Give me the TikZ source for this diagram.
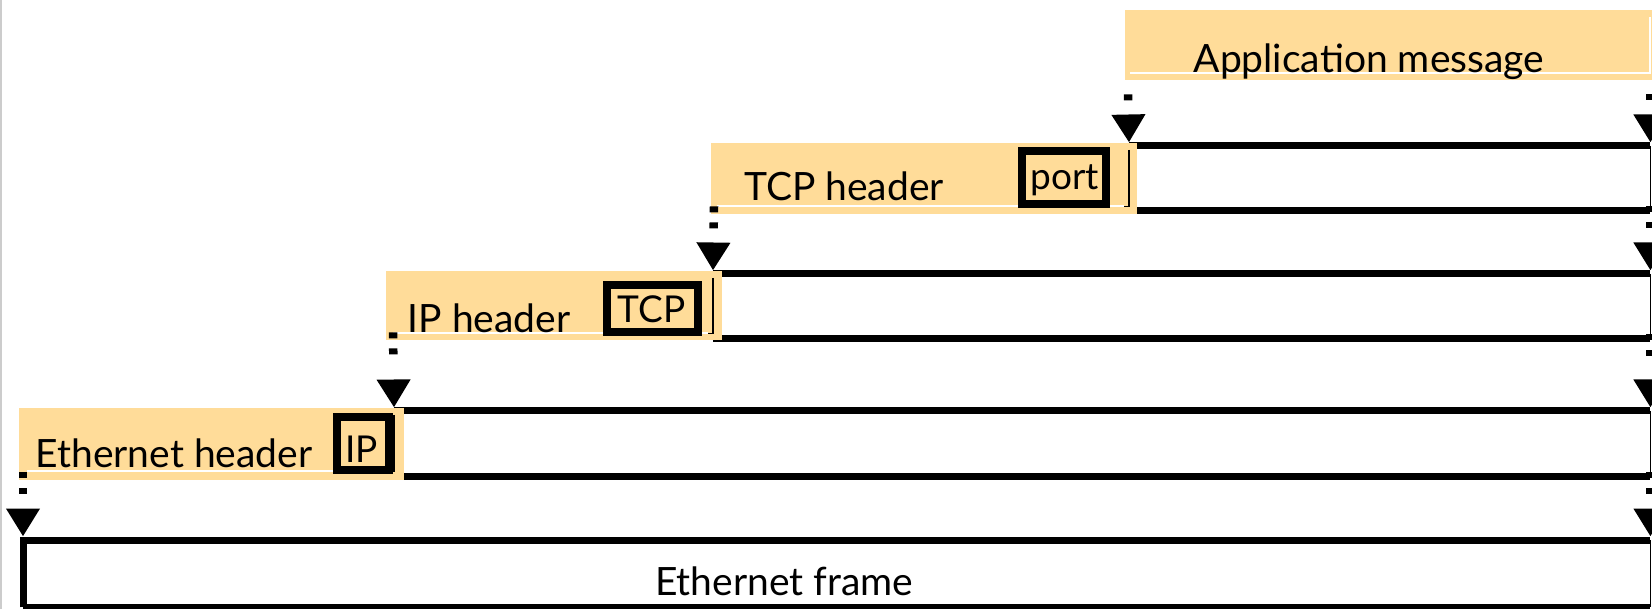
\documentclass[tikz,border=0pt]{standalone}
\usepackage{fontspec}
\setmainfont{Lato}
\usetikzlibrary{arrows.meta,calc}
\definecolor{hdrfill}{HTML}{FFDC99}
\tikzset{
  hdrbox/.style={fill=hdrfill, draw=none, inner sep=0pt, anchor=north west},
  paybox/.style={draw=none, inner sep=0pt, anchor=north west},
  fieldbox/.style={draw=black, line width=8pt, inner sep=0pt, anchor=center},
  fieldlabel/.style={anchor=base, inner sep=0pt, font=\fontsize{37}{40}\selectfont},
  biglabel/.style={anchor=base, inner sep=0pt, font=\fontsize{39}{46}\selectfont},
  bar/.style={line width=7pt},
  thinedge/.style={line width=1.5pt},
  seam/.style={white, line width=1.5pt},
  link/.style={line width=8.5pt, dash pattern=on 6pt off 10pt on 6pt off 80pt,
    -{Triangle[width=32pt,length=28pt]}},
}
\begin{document}
\begin{tikzpicture}[x=1pt,y=-1pt]
\useasboundingbox (0,0) rectangle (1652,609);
\clip (0,0) rectangle (1652,609);

% payload areas
\node[paybox, minimum width=521pt, minimum height=64pt] (tcppay) at (1129,146) {};
\node[paybox, minimum width=937pt, minimum height=64pt] (ippay) at (713,274) {};
\node[paybox, minimum width=1256pt, minimum height=65pt] (ethpay) at (394,411) {};
\node[paybox, minimum width=1627pt, minimum height=67pt] (frame) at (23,540) {};

% thick top and bottom rules of each payload
\foreach \p in {tcppay,ippay,ethpay}{
  \draw[bar] (\p.north west) -- (\p.north east);
  \draw[bar] (\p.south west) -- (\p.south east);
  \draw[thinedge] (\p.north east) -- (\p.south east);
}
\draw[bar] (frame.south west) -- (frame.north west) -- (frame.north east);
\draw[bar] (frame.south west) -- (frame.south east);
\draw[thinedge] (frame.north east) -- (frame.south east);

% header boxes
\node[hdrbox, minimum width=535pt, minimum height=70pt] (app) at (1125,10) {};
\node[hdrbox, minimum width=426pt, minimum height=71pt] (tcph) at (711,143) {};
\node[hdrbox, minimum width=336pt, minimum height=69pt] (iph) at (386,271) {};
\node[hdrbox, minimum width=385pt, minimum height=72pt] (ethh) at (19,408) {};

% light seams inside the header boxes
\draw[seam] (1130,73) -- (1650,73) -- (1650,17);
\draw[seam] (717,206) -- (1124,206);
\draw[seam] (393,333) -- (708,333);
\draw[seam] (27,471) -- (389,471);

% left edges of the payloads, seen through the headers
\draw[thinedge] ($(tcppay.north west)+(0,4)$) -- ($(tcppay.south west)+(0,-4)$) -- ++(-5,0);
\draw[thinedge] ($(ippay.north west)+(0,4)$) -- ($(ippay.south west)+(0,-5)$) -- ++(-5,0);
\draw[thinedge] ($(ethpay.north west)+(0,4)$) -- ($(ethpay.south west)+(0,-5)$) -- ++(-5,0);

% protocol fields inside the headers
\node[fieldbox, minimum width=84pt, minimum height=53pt] (port) at (1064,178) {};
\node[fieldlabel] at (1065,190) {port};
\node[fieldbox, minimum width=91pt, minimum height=47pt] (tcpf) at (652.5,308.5) {};
\node[fieldlabel] at (651.5,323) {TCP};
\node[fieldbox, minimum width=52pt, minimum height=53pt] (ipf) at (363,443.5) {};
\node[fieldlabel] at (361.5,462) {IP};

% labels
\node[biglabel] (lapp) at (1369,73) {Application message};
\node[biglabel] (ltcp) at (844,201) {TCP header};
\node[biglabel] (lip) at (489,333) {IP header};
\node[biglabel] (leth) at (174,467) {Ethernet header};
\node[biglabel] (lframe) at (784,595) {Ethernet frame};

% encapsulation links
\draw[link, dash pattern=on 6pt off 80pt] ($(app.south west)+(3,14)$) -- ($(tcppay.north west)+(0,-3.5)$);
\draw[link, dash pattern=on 6pt off 80pt] ($(app.south east)+(-10,14)$) -- ($(tcppay.north east)+(0,-3.5)$);
\draw[link] ($(tcph.south west)+(3,-8)$) -- ($(ippay.north west)+(0,-3.5)$);
\draw[link] ($(tcppay.south east)+(0,-4)$) -- ($(ippay.north east)+(0,-3.5)$);
\draw[link] ($(iph.south west)+(7,-8)$) -- ($(ethpay.north west)+(0,-3.5)$);
\draw[link] ($(ippay.south east)+(0,-4)$) -- ($(ethpay.north east)+(0,-3.5)$);
\draw[link] ($(ethh.south west)+(4,-8)$) -- ($(frame.north west)+(0,-3.5)$);
\draw[link] ($(ethpay.south east)+(0,-4)$) -- ($(frame.north east)+(0,-3.5)$);

% page edge
\draw[black!20, line width=2pt] (1,0) -- (1,609);
\end{tikzpicture}
\end{document}
